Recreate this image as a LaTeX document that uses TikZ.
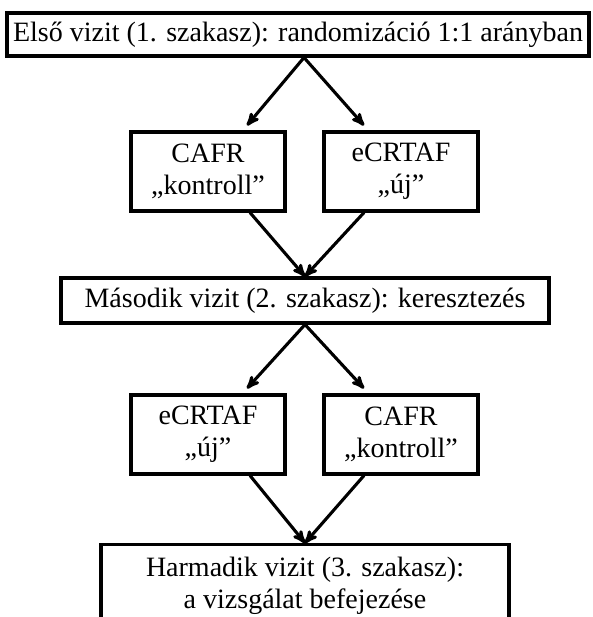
\documentclass[tikz,border=0pt]{standalone}
\usepackage{fontspec}
\setmainfont{Liberation Serif}
\usetikzlibrary{arrows}
\usetikzlibrary{positioning}
\usetikzlibrary{calc}

\begin{document}
\begin{tikzpicture}[->,>=stealth',x=1pt,y=1pt,line width=3.1pt,
                    main node/.style={rectangle,draw,inner sep=0pt,align=center,font=\fontsize{28}{32}\selectfont},
                    arm node/.style={main node,minimum width=154pt,minimum height=79pt}]
  \useasboundingbox (0,0) rectangle (592,-617);

  \node[main node,minimum width=582pt,minimum height=43pt] (elso) at (298,-34.5) {Első vizit (1. szakasz): randomizáció 1:1 arányban};
  \node[arm node] (cafr1) at (208,-171.5) {CAFR\\„kontroll”};
  \node[arm node] (ecrtaf1) at (401,-171.5) {eCRTAF\\„új”};
  \node[main node,minimum width=488pt,minimum height=45pt] (masodik) at (305,-300.5) {Második vizit (2. szakasz): keresztezés};
  \node[arm node] (ecrtaf2) at (208,-434.5) {eCRTAF\\„új”};
  \node[arm node] (cafr2) at (401,-434.5) {CAFR\\„kontroll”};
  \node[main node,minimum width=408pt,minimum height=82pt,anchor=north] (harmadik) at (305,-543) {Harmadik vizit (3. szakasz):\\a vizsgálat befejezése};

  \path
    ($(elso.south)+(6,0)$) edge ($(cafr1.north)+(39,5)$)
    ($(elso.south)+(6,0)$) edge ($(ecrtaf1.north)+(-37,5)$)
    ($(cafr1.south)+(42,0)$) edge (masodik.north)
    ($(ecrtaf1.south)+(-37,0)$) edge (masodik.north)
    (masodik.south) edge ($(ecrtaf2.north)+(39,5)$)
    (masodik.south) edge ($(cafr2.north)+(-37,5)$)
    ($(ecrtaf2.south)+(42,0)$) edge (harmadik.north)
    ($(cafr2.south)+(-37,0)$) edge (harmadik.north)
  ;
\end{tikzpicture}
\end{document}
